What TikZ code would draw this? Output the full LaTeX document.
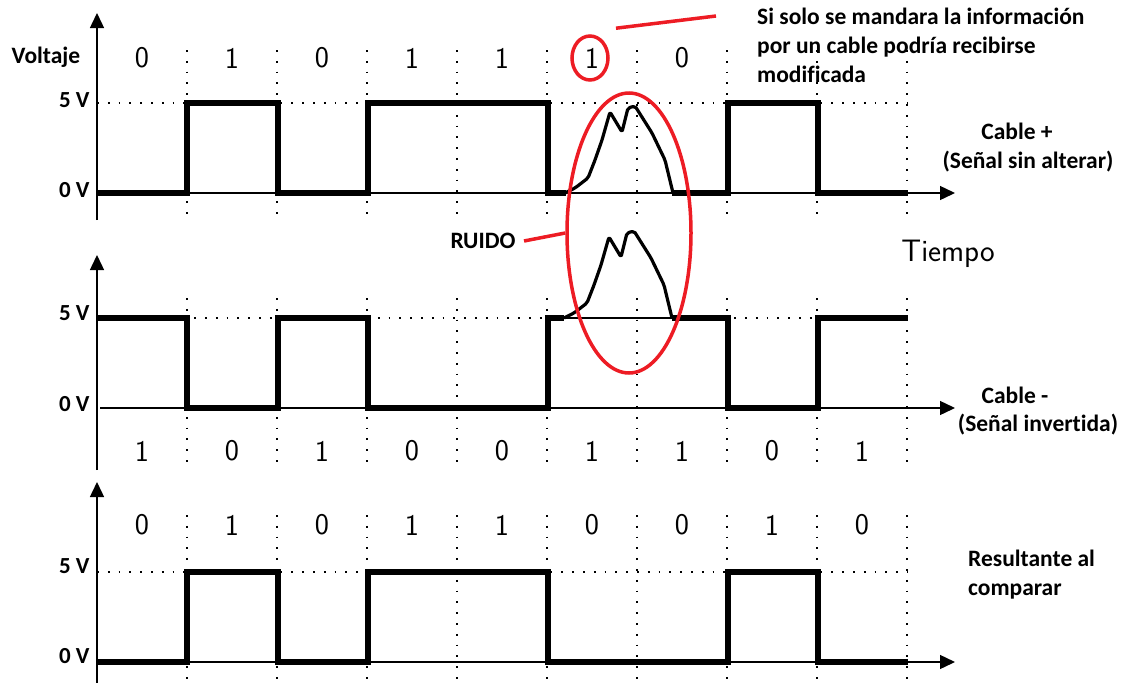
\documentclass[tikz,border=0pt]{standalone}
\usepackage{fontspec}
\setmainfont{Carlito}[Ligatures=NoCommon]
\usetikzlibrary{arrows.meta,shapes.geometric}
\definecolor{markred}{RGB}{237,28,36}
\tikzset{
  signal/.style={line width=6pt},
  axisline/.style={line width=1.4pt, -{Triangle[length=15pt,width=14pt]}},
  gridline/.style={line width=1.8pt, dash pattern=on 1.8pt off 9pt},
  noise/.style={line width=3.2pt, line join=round, rounded corners=2pt},
  redmark/.style={draw=markred, line width=3.5pt},
  bit/.style={font=\sffamily\fontsize{30}{30}\selectfont},
  note/.style={font=\bfseries\fontsize{23.5}{29}\selectfont},
  volt/.style={font=\bfseries\fontsize{23}{23}\selectfont, anchor=east},
}
\newcommand\noisepath{(565,193) -- (575,188) -- (588,178) -- (595,160) -- (602,140) -- (610,112) -- (622,132) -- (628,108) -- (635,106) -- (652,133) -- (665,160) -- (673,193)}

\begin{document}
\begin{tikzpicture}[x=1pt,y=-1pt]
  \useasboundingbox (0,0) rectangle (1128,683);
  \foreach \i in {1,...,9} {
    \draw[gridline] ({97+90*\i},50) -- ({97+90*\i},215);
    \draw[gridline] ({97+90*\i},298) -- ({97+90*\i},465);
    \draw[gridline] ({97+90*\i},515) -- ({97+90*\i},683);
  }
  \draw[gridline] (97,103) -- (908,103);
  \draw[gridline] (97,318) -- (908,318);
  \draw[gridline] (97,572) -- (908,572);

  \draw[axisline] (97,220) -- (97,13);
  \draw[axisline] (97,470) -- (97,255);
  \draw[axisline] (97,683) -- (97,482);
  \draw[axisline] (97,193) -- (955,193);
  \draw[axisline] (100,408) -- (955,408);
  \draw[axisline] (97,662) -- (955,662);
  \draw[line width=1.4pt] (548,318) -- (728,318);

  \draw[signal] (97,193) -| (187,103) -| (278,193) -| (368,103) -| (548,193) -- (566,193);
  \draw[signal] (672,193) -| (728,103) -| (818,193) -- (908,193);
  \draw[signal] (97,318) -| (187,408) -| (278,318) -| (368,408) -| (548,318) -- (564,318);
  \draw[signal] (672,318) -| (728,408) -| (818,318) -- (908,318);
  \draw[signal] (97,662) -| (187,572) -| (278,662) -| (368,572) -| (548,662) -| (728,572) -| (818,662) -- (908,662);
  \draw[noise] \noisepath;
  \draw[noise, shift={(-1,125)}] \noisepath;

  \node[note, anchor=base] (voltaje) at (46,63) {Voltaje};
  \node[volt] (vfivea) at (93,100) {5 V};
  \node[volt] (vzeroa) at (93,190) {0 V};
  \node[volt] (vfiveb) at (93,313) {5 V};
  \node[volt] (vzerob) at (93,404) {0 V};
  \node[volt] (vfivec) at (93,566) {5 V};
  \node[volt] (vzeroc) at (93,656) {0 V};

  \foreach \b [count=\i] in {0,1,0,1,1,1,0}
    \node[bit] (plus\i) at ({52+90*\i},58) {\b};
  \foreach \b [count=\i] in {1,0,1,0,0,1,1,0,1}
    \node[bit] (minus\i) at ({52+90*\i},451) {\b};
  \foreach \b [count=\i] in {0,1,0,1,1,0,0,1,0}
    \node[bit] (result\i) at ({52+90*\i},525) {\b};

  \node[bit, font=\sffamily\fontsize{31}{31}\selectfont] (tiempo) at (948,254) {Tiempo};
  \node[note] (cplus) at (1017,131) {Cable +};
  \node[note] (cplusnote) at (1028,162) {(Señal sin alterar)};
  \node[note] (cminus) at (1015,395) {Cable -};
  \node[note] (cminusnote) at (1038,425) {(Señal invertida)};
  \node[note, align=left, anchor=north west, inner sep=0pt] (resultnote) at (968,550) {Resultante al\\comparar};
  \node[note, align=left, anchor=north west, inner sep=0pt] (warning) at (757,8) {Si solo se mandara la información\\por un cable podría recibirse\\modificada};
  \node[note] (ruido) at (483,241) {RUIDO};

  \node[ellipse, redmark, minimum width=36pt, minimum height=44pt, inner sep=0pt] (flipped) at (590,58) {};
  \node[ellipse, redmark, minimum width=124pt, minimum height=280pt] (noisezone) at (629,233) {};
  \coordinate (warntip) at (716,16);
  \draw[redmark] ([shift={(12,-13)}]flipped.north east) -- (warntip);
  \draw[redmark] ([xshift=5pt]ruido.east) -- (noisezone.west);
\end{tikzpicture}
\end{document}
